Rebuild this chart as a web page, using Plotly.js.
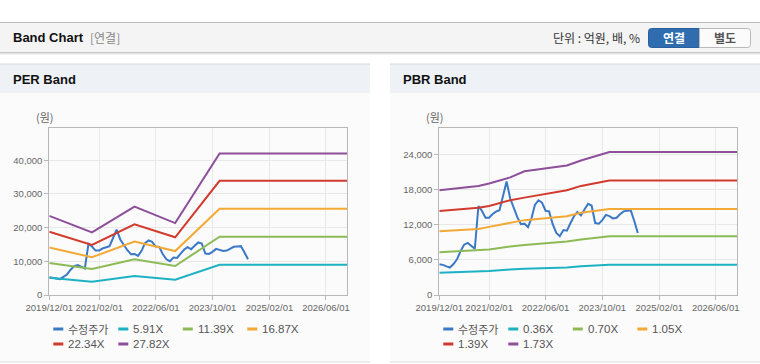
<!DOCTYPE html>
<html><head><meta charset="utf-8">
<script src="https://cdn.plot.ly/plotly-3.0.1.min.js"></script>
<style>html,body{margin:0;padding:0;background:#fff}#c{width:760px;height:364px}</style>
</head><body><div id="c"></div>
<script>
// ---------- data ----------
const priceDates = ["2019-12","2020-01","2020-02","2020-03","2020-04","2020-05","2020-06","2020-07","2020-08","2020-09","2020-10","2020-11","2020-12",
"2021-01","2021-02","2021-03","2021-04","2021-05","2021-06","2021-07","2021-08","2021-09","2021-10","2021-11","2021-12",
"2022-01","2022-02","2022-03","2022-04","2022-05","2022-06","2022-07","2022-08","2022-09","2022-10","2022-11","2022-12",
"2023-01","2023-02","2023-03","2023-04","2023-05","2023-06","2023-07","2023-08","2023-09","2023-10","2023-11","2023-12",
"2024-01","2024-02","2024-03","2024-04","2024-05","2024-06","2024-07","2024-08"];
const price = [5250,5150,4900,4700,5300,6100,7500,8600,8900,8400,7900,15200,14400,
13200,13200,13800,14250,14500,17000,19400,16500,14800,13300,12100,12200,
11600,13200,15400,16200,15800,14400,14300,12100,10600,10050,11100,11000,
12300,13500,14200,13600,14600,15600,15300,12300,12200,12800,13700,13500,
13100,13200,13800,14300,14400,14500,12700,10600];

const perBandDates = ["2019-12-01","2020-12-01","2021-12-01","2022-11-15","2023-12-01","2026-12-01"];
const per591  = [5150, 3950, 5640, 4520, 8950, 8950];
const per1139 = [9500, 7700, 10600, 8620, 17300, 17300];
const per1687 = [14100, 11200, 15850, 13050, 25600, 25600];
const per2234 = [18800, 14850, 21000, 17130, 33900, 33900];
const per2782 = [23500, 18600, 26250, 21350, 42000, 42000];
const perNames = ["수정주가","5.91X","11.39X","16.87X","22.34X","27.82X"];

const pbrBandDates = ["2019-12-01","2020-11-01","2021-02-01","2021-08-01","2021-12-01","2022-12-01","2023-04-01","2023-12-01","2026-12-01"];
const pbr036 = [3810, 3950, 4100, 4350, 4500, 4700, 4900, 5160, 5160];
const pbr070 = [7300, 7600, 7800, 8300, 8550, 9150, 9500, 10040, 10040];
const pbr105 = [10900, 11300, 11650, 12300, 12800, 13450, 14050, 14700, 14700];
const pbr139 = [14370, 14900, 15230, 16200, 16650, 17900, 18650, 19560, 19560];
const pbr173 = [17900, 18650, 19050, 20100, 21150, 22150, 23000, 24430, 24430];
const pbrNames = ["수정주가","0.36X","0.70X","1.05X","1.39X","1.73X"];

const xTickVals = ["2019-12-01","2021-02-01","2022-06-01","2023-10-01","2025-02-01","2026-06-01"];
const xTickText = ["2019/12/01","2021/02/01","2022/06/01","2023/10/01","2025/02/01","2026/06/01"];
const xRange = ["2019-12-01","2026-12-01"];

// ---------- styles ----------
const colors = ["#3b78c6","#1db2c3","#8cbb55","#f3a935","#d23a2e","#8e4f9a"];
const W = 760, H = 364;
const X = p => p / W, Y = p => 1 - p / H;
const tickFont = {family:"Liberation Sans, Arial, sans-serif", size:9.5, color:"#666"};
const uiFont = "Liberation Sans, Noto Sans CJK KR, sans-serif";
const krFont = "Noto Sans CJK KR, sans-serif";

function band(x, y, name, color, xa, ya){
  return {type:"scatter", mode:"lines", x:x, y:y, name:name, xaxis:xa, yaxis:ya,
    line:{color:color, width:2}, hoverinfo:"skip"};
}
const traces = [
  band(priceDates, price, perNames[0], colors[0], "x", "y"),
  band(perBandDates, per591, perNames[1], colors[1], "x", "y"),
  band(perBandDates, per1139, perNames[2], colors[2], "x", "y"),
  band(perBandDates, per1687, perNames[3], colors[3], "x", "y"),
  band(perBandDates, per2234, perNames[4], colors[4], "x", "y"),
  band(perBandDates, per2782, perNames[5], colors[5], "x", "y"),
  band(priceDates, price, pbrNames[0], colors[0], "x2", "y2"),
  band(pbrBandDates, pbr036, pbrNames[1], colors[1], "x2", "y2"),
  band(pbrBandDates, pbr070, pbrNames[2], colors[2], "x2", "y2"),
  band(pbrBandDates, pbr105, pbrNames[3], colors[3], "x2", "y2"),
  band(pbrBandDates, pbr139, pbrNames[4], colors[4], "x2", "y2"),
  band(pbrBandDates, pbr173, pbrNames[5], colors[5], "x2", "y2")
];

function xax(l, r, anchor){
  return {domain:[X(l), X(r)], anchor:anchor, type:"date", range:xRange, tickmode:"array",
    tickvals:xTickVals, ticktext:xTickText, tickangle:0,
    showgrid:true, gridcolor:"#e8e8e8", gridwidth:1, showline:true, linecolor:"#b8b8b8",
    linewidth:1, mirror:true, ticks:"outside", ticklen:4, tickcolor:"#b8b8b8", tickfont:tickFont, zeroline:false, fixedrange:true};
}
function yax(top, bot, anchor, range, dtick){
  return {domain:[Y(bot), Y(top)], anchor:anchor, range:range, dtick:dtick, tickformat:",d",
    showgrid:true, gridcolor:"#e8e8e8", showline:true, linecolor:"#b8b8b8", mirror:true, ticks:"outside",
    ticklen:4, tickcolor:"#b8b8b8", tickfont:tickFont, zeroline:false, fixedrange:true};
}

function rectP(x0, y0, x1, y1, fill, lineColor, lw){
  return {type:"rect", xref:"paper", yref:"paper", x0:X(x0), x1:X(x1), y0:Y(y1), y1:Y(y0),
    fillcolor:fill, line:{color:lineColor||fill, width:lw===undefined?0:lw}, layer:"below"};
}
function lineP(x0, y0, x1, y1, color, w, layer){
  return {type:"line", xref:"paper", yref:"paper", x0:X(x0), x1:X(x1), y0:Y(y0), y1:Y(y1),
    line:{color:color, width:w}, layer:layer||"below"};
}
function roundLeft(x0, y0, x1, y1, r){
  const P=(x,y)=>X(x)+","+Y(y);
  return "M"+P(x0+r,y0)+" L"+P(x1,y0)+" L"+P(x1,y1)+" L"+P(x0+r,y1)+" Q"+P(x0,y1)+" "+P(x0,y1-r)+
    " L"+P(x0,y0+r)+" Q"+P(x0,y0)+" "+P(x0+r,y0)+" Z";
}
function roundRight(x0, y0, x1, y1, r){
  const P=(x,y)=>X(x)+","+Y(y);
  return "M"+P(x0,y0)+" L"+P(x1-r,y0)+" Q"+P(x1,y0)+" "+P(x1,y0+r)+" L"+P(x1,y1-r)+" Q"+P(x1,y1)+" "+P(x1-r,y1)+
    " L"+P(x0,y1)+" Z";
}

const shapes = [
  rectP(0, 22, 760, 52.5, "#f4f4f4"),
  lineP(0, 22.5, 760, 22.5, "#bcbcbc", 1),
  lineP(0, 52.5, 760, 52.5, "#c4c4c4", 1),
  lineP(0, 53.5, 760, 53.5, "#e4e4e4", 1),
  lineP(0, 54.5, 760, 54.5, "#f2f2f2", 1),
  {type:"path", xref:"paper", yref:"paper", path:roundLeft(648.5, 28.5, 699.5, 47.5, 3), fillcolor:"#2f6db0", line:{color:"#285f9c", width:1}, layer:"below"},
  {type:"path", xref:"paper", yref:"paper", path:roundRight(699.5, 28.5, 750.5, 47.5, 3), fillcolor:"#fbfbfb", line:{color:"#b9b9b9", width:1}, layer:"below"},
  rectP(0, 64, 370, 362, "#fbfbfb"),
  rectP(390, 64, 760, 362, "#fbfbfb"),
  rectP(0, 64, 370, 93, "#eef2f7"),
  rectP(390, 64, 760, 93, "#eef2f7"),
  lineP(0, 64, 370, 64, "#d6d6d6", 1),
  lineP(390, 64, 760, 64, "#d6d6d6", 1),
  lineP(0, 362, 370, 362, "#dcdcdc", 1),
  lineP(390, 362, 760, 362, "#dcdcdc", 1)
];

const annotations = [
  {text:"<b>Band Chart</b>", x:X(11), y:Y(38), xanchor:"left", yanchor:"middle", font:{family:uiFont, size:13, color:"#111"}},
  {text:"[연결]", x:X(88), y:Y(38), xanchor:"left", yanchor:"middle", font:{family:krFont, size:12, color:"#888"}},
  {text:"단위 : 억원, 배, %", x:X(642), y:Y(38), xanchor:"right", yanchor:"middle", font:{family:krFont, size:12, color:"#333"}},
  {text:"<b>연결</b>", x:X(674), y:Y(38), xanchor:"center", yanchor:"middle", font:{family:krFont, size:12, color:"#ffffff"}},
  {text:"<b>별도</b>", x:X(725), y:Y(38), xanchor:"center", yanchor:"middle", font:{family:krFont, size:12, color:"#555"}},
  {text:"<b>PER Band</b>", x:X(11), y:Y(79.5), xanchor:"left", yanchor:"middle", font:{family:uiFont, size:13, color:"#111"}},
  {text:"<b>PBR Band</b>", x:X(401), y:Y(79.5), xanchor:"left", yanchor:"middle", font:{family:uiFont, size:13, color:"#111"}},
  {text:"(원)", x:X(34), y:Y(117), xanchor:"left", yanchor:"middle", font:{family:krFont, size:11, color:"#666"}},
  {text:"(원)", x:X(424), y:Y(117), xanchor:"left", yanchor:"middle", font:{family:krFont, size:11, color:"#666"}}
];
annotations.forEach(a=>{a.xref="paper"; a.yref="paper"; a.showarrow=false;});

const colOff = [4, 69, 133.5, 198], rowY = [329, 344];
function addLegend(names, plotLeft){
  names.forEach((n, i)=>{
    const cx = plotLeft + colOff[i % 4], cy = rowY[Math.floor(i / 4)];
    shapes.push(lineP(cx, cy, cx + 10, cy, colors[i], 3, "above"));
    annotations.push({text:n, xref:"paper", yref:"paper", x:X(cx + 13), y:Y(cy), xanchor:"left", yanchor:"middle",
      showarrow:false, font:{family:(i === 0 ? krFont : uiFont), size:(i === 0 ? 11 : 11.5), color:"#555"}});
  });
}
addLegend(perNames, 49.3);
addLegend(pbrNames, 439.3);

const layout = {
  width:W, height:H, margin:{l:0, r:0, t:0, b:0}, paper_bgcolor:"#ffffff", plot_bgcolor:"#ffffff",
  showlegend:false, hovermode:false,
  xaxis: xax(49.3, 347.3, "y"),
  yaxis: yax(128.3, 295, "x", [0, 49500], 10000),
  xaxis2: xax(439.3, 737, "y2"),
  yaxis2: yax(128.3, 295, "x2", [0, 28500], 6000),
  shapes: shapes, annotations: annotations
};
Plotly.newPlot("c", traces, layout, {staticPlot:true, displayModeBar:false});
</script></body></html>
